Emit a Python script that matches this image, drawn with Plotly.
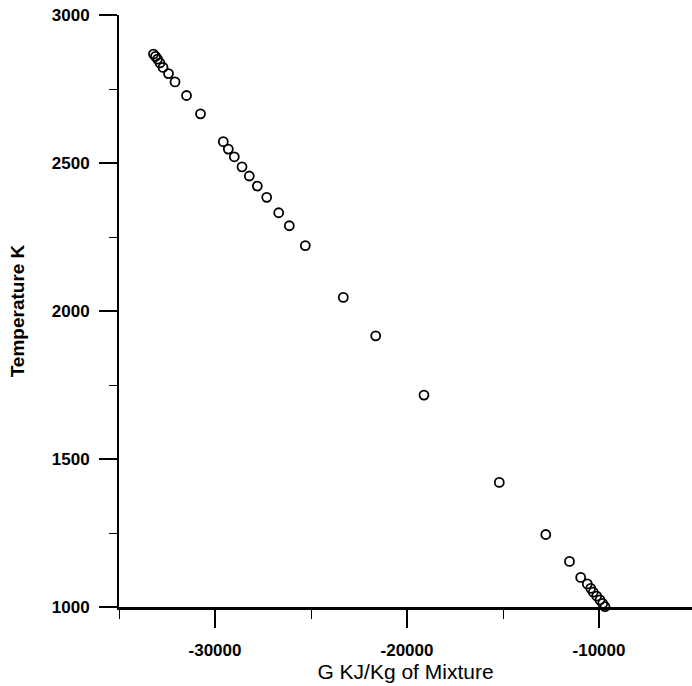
import plotly.graph_objects as go

# Free energy G (KJ/Kg of mixture) and temperature (K)
g_values = [-33203, -33099, -32995, -32865, -32708, -32422, -32083, -31484, -30755,
            -29568, -29307, -28995, -28594, -28214, -27797, -27307, -26682, -26130,
            -25297, -23318, -21630, -19115, -15193, -12771, -11536, -10953, -10609,
            -10432, -10297, -10120, -9948, -9807, -9687]
t_values = [2868, 2860, 2851, 2838, 2823, 2802, 2774, 2728, 2666,
            2572, 2547, 2521, 2487, 2456, 2422, 2384, 2332, 2288,
            2221, 2046, 1916, 1716, 1421, 1245, 1154, 1100, 1078,
            1063, 1050, 1037, 1024, 1012, 1001]

x_ticks = [-30000, -20000, -10000]
x_tick_labels = ["-30000", "-20000", "-10000"]
y_ticks = [1000, 1500, 2000, 2500, 3000]
y_tick_labels = ["1000", "1500", "2000", "2500", "3000"]

FONT = "Liberation Sans, Arial, sans-serif"

fig = go.Figure()
fig.add_trace(go.Scatter(
    x=g_values, y=t_values, mode="markers",
    marker=dict(symbol="circle-open", size=9, color="black", line=dict(width=1.8, color="black")),
    cliponaxis=False, showlegend=False,
))

fig.update_layout(
    width=692, height=686,
    margin=dict(l=119, r=0, t=15, b=79),
    paper_bgcolor="white", plot_bgcolor="white",
    font=dict(family=FONT, color="black"),
    xaxis=dict(
        range=[-35000, -5156],
        showgrid=False, zeroline=False,
        showline=True, linecolor="black", linewidth=2.5,
        tickmode="array", tickvals=x_ticks, ticktext=x_tick_labels,
        ticks="outside", ticklen=18, tickwidth=1.5, tickcolor="black",
        tickfont=dict(family=FONT, size=17, weight="bold", color="black"),
        ticklabelstandoff=8,
        minor=dict(tickmode="linear", tick0=-35000, dtick=5000, ticks="outside",
                   ticklen=9, tickwidth=1.2, tickcolor="black", showgrid=False),
        title=dict(text="G KJ/Kg of Mixture", font=dict(family=FONT, size=21, color="black"), standoff=0),
    ),
    yaxis=dict(
        range=[1000, 3000],
        showgrid=False, zeroline=False,
        showline=True, linecolor="black", linewidth=2,
        tickmode="array", tickvals=y_ticks, ticktext=y_tick_labels,
        ticks="outside", ticklen=18, tickwidth=1.5, tickcolor="black",
        tickfont=dict(family=FONT, size=17, weight="bold", color="black"),
        ticklabelstandoff=6,
        minor=dict(tickmode="linear", tick0=1000, dtick=250, ticks="outside",
                   ticklen=8, tickwidth=1.2, tickcolor="black", showgrid=False),
        title=dict(text="Temperature K", font=dict(family=FONT, size=19, weight="bold", color="black"), standoff=22),
    ),
)

fig.write_html("out.html")
